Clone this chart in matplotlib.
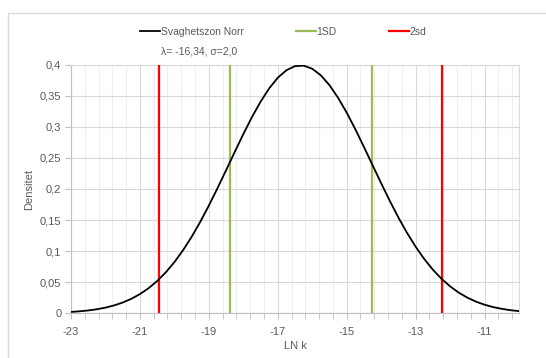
import matplotlib.pyplot as plt
from matplotlib.patches import Rectangle
from matplotlib.ticker import MultipleLocator, FuncFormatter

# density curve (LN k vs Densitet)
ln_k = [-23.0, -22.75, -22.5, -22.25, -22.0, -21.75, -21.5, -21.25, -21.0, -20.75,
        -20.5, -20.25, -20.0, -19.75, -19.5, -19.25, -19.0, -18.75, -18.5, -18.25,
        -18.0, -17.75, -17.5, -17.25, -17.0, -16.75, -16.5, -16.25, -16.0, -15.75,
        -15.5, -15.25, -15.0, -14.75, -14.5, -14.25, -14.0, -13.75, -13.5, -13.25,
        -13.0, -12.75, -12.5, -12.25, -12.0, -11.75, -11.5, -11.25, -11.0, -10.75,
        -10.5, -10.25, -10.0]
densitet = [0.0022, 0.0032, 0.0046, 0.0065, 0.0091, 0.0127, 0.0173, 0.0233, 0.0309, 0.0403,
            0.0519, 0.0659, 0.0823, 0.1014, 0.1229, 0.1471, 0.1733, 0.2012, 0.2302, 0.2595,
            0.2883, 0.3156, 0.3404, 0.3618, 0.3790, 0.3911, 0.3977, 0.3985, 0.3935, 0.3829,
            0.3671, 0.3468, 0.3229, 0.2962, 0.2677, 0.2384, 0.2093, 0.1810, 0.1542, 0.1295,
            0.1072, 0.0874, 0.0702, 0.0556, 0.0434, 0.0333, 0.0252, 0.0188, 0.0138, 0.0100,
            0.0072, 0.0050, 0.0035]

sd1 = [-18.40, -14.28]
sd2 = [-20.46, -12.22]
y_top = 0.4

plt.rcParams['font.family'] = ['Liberation Sans', 'DejaVu Sans']
grey = '#595959'
fs = 8

fig = plt.figure(figsize=(5.46, 3.58), dpi=100)
fig.patches.append(Rectangle((7.5 / 546, -0.1), 1.2, 1 - 12.5 / 358 + 0.1,
                             transform=fig.transFigure, fill=False,
                             edgecolor='#D9D9D9', linewidth=1))
ax = fig.add_axes([71 / 546, 1 - 313.3 / 358, 448 / 546, 248.6 / 358])

line, = ax.plot(ln_k, densitet, color='black', lw=1.3, label='Svaghetszon Norr', zorder=4)
green = [ax.plot([x, x], [0, y_top], color='#9BBB59', lw=1.6, zorder=3)[0] for x in sd1]
red = [ax.plot([x, x], [0, y_top], color='#FF0000', lw=1.6, zorder=3)[0] for x in sd2]
green[0].set_label('1SD')
red[0].set_label('2sd')

ax.set_xlim(-23, -10)
ax.set_ylim(0, 0.4)
ax.set_xticks([-23, -21, -19, -17, -15, -13, -11])
ax.set_xticks([-23 + 0.4 * i for i in range(33)], minor=True)
ax.yaxis.set_major_locator(MultipleLocator(0.05))

fmt = lambda v, p: ('%g' % round(v, 2)).replace('.', ',')
ax.xaxis.set_major_formatter(FuncFormatter(fmt))
ax.yaxis.set_major_formatter(FuncFormatter(fmt))

ax.grid(which='major', color='#D9D9D9', lw=0.8, zorder=0)
ax.grid(which='minor', axis='x', color='#EFEFEF', lw=0.8, zorder=0)
ax.set_axisbelow(True)

for side in ['top', 'right']:
    ax.spines[side].set_color('#D9D9D9')
for side in ['left', 'bottom']:
    ax.spines[side].set_color('#BFBFBF')

ax.tick_params(axis='both', which='both', colors='#BFBFBF', labelcolor=grey, labelsize=fs, length=4)
ax.tick_params(axis='y', pad=3)
ax.tick_params(axis='x', pad=6)

ax.set_xlabel('LN k', color=grey, fontsize=fs, labelpad=3)
ax.set_ylabel('Densitet', color=grey, fontsize=fs, labelpad=4)

fig.legend(handles=[line, green[0], red[0]], loc='center left',
           bbox_to_anchor=(140 / 546, 1 - 32 / 358),
           ncol=3, frameon=False, fontsize=7.5, labelcolor=grey,
           handlelength=1.9, handletextpad=0.1, columnspacing=5.0, borderpad=0, borderaxespad=0)
fig.text(161 / 546, 1 - 51 / 358, 'λ= -16,34, σ=2,0', color=grey, fontsize=7.5, va='center', ha='left')

fig.savefig('out.png', dpi=100)
